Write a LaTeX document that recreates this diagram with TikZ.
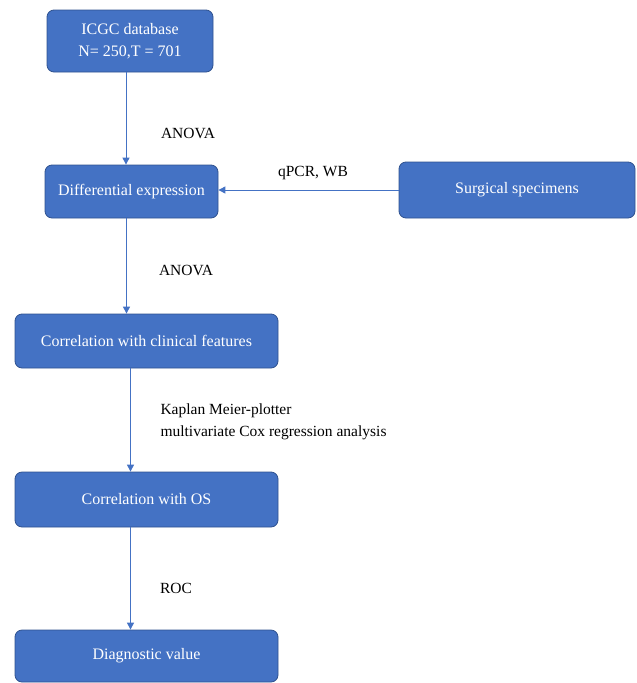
\documentclass[tikz,border=0pt]{standalone}
\usepackage{fontspec}
\setmainfont{Liberation Serif}
\usetikzlibrary{arrows.meta}
\definecolor{boxblue}{HTML}{4472C4}
\definecolor{boxedge}{HTML}{2F528F}
\tikzset{
  stepbox/.style={draw=boxedge,line width=0.8pt,fill=boxblue,rounded corners=7pt,text=white,font=\fontsize{16}{22}\selectfont,align=center,inner sep=0pt},
  flow/.style={draw=boxblue,line width=1pt,-{Triangle[length=7pt,width=7pt]}},
  lab/.style={font=\fontsize{15.5}{22}\selectfont,text=black}
}
\begin{document}
\begin{tikzpicture}[x=1pt,y=-1pt]
\useasboundingbox (0,0) rectangle (637,683);
% boxes
\node[stepbox,minimum width=166pt,minimum height=62pt] (icgc) at (130,41) {ICGC database\\N= 250,T = 701};
\node[stepbox,minimum width=173pt,minimum height=53pt] (diffexp) at (131.5,191.5) {Differential expression};
\node[stepbox,minimum width=236pt,minimum height=56pt] (surg) at (517,190) {Surgical specimens};
\node[stepbox,minimum width=263pt,minimum height=54pt] (clinic) at (146.5,341) {Correlation with clinical features};
\node[stepbox,minimum width=263pt,minimum height=55pt] (os) at (146.5,499.5) {Correlation with OS};
\node[stepbox,minimum width=263pt,minimum height=52pt] (diag) at (146.5,656) {Diagnostic value};
% connectors
\draw[flow] ([xshift=-4pt]icgc.south) -- ([xshift=-4pt]icgc.south |- diffexp.north);
\draw[flow] ([xshift=-5pt]diffexp.south) -- ([xshift=-5pt]diffexp.south |- clinic.north);
\draw[flow] (surg.west) -- (surg.west -| diffexp.east);
\foreach \A/\B in {clinic/os,os/diag}{\draw[flow] ([xshift=-16pt]\A.south) -- ([xshift=-16pt]\B.north);}
% labels
\node[lab] (anova1) at (188,133) {ANOVA};
\node[lab] (qpcr) at (313,173) {qPCR, WB};
\node[lab] (anova2) at (186,270) {ANOVA};
\node[lab,anchor=west,align=left] (km) at (157,422) {Kaplan Meier-plotter\\multivariate Cox regression analysis};
\node[lab] (roc) at (176,588) {ROC};
\end{tikzpicture}
\end{document}
